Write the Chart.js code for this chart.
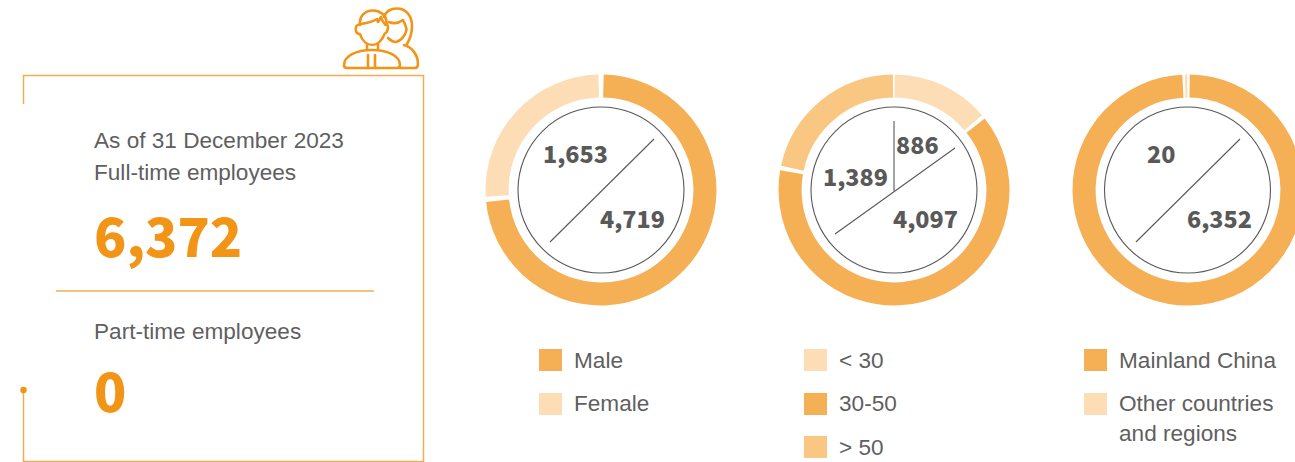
<!DOCTYPE html>
<html><head><meta charset="utf-8">
<script src="https://cdn.jsdelivr.net/npm/chart.js@4"></script>
<style>
html,body{margin:0;padding:0;background:#fff;width:1295px;height:462px;overflow:hidden}
#stage{position:relative;width:1295px;height:462px;overflow:hidden}
.t{position:absolute;white-space:nowrap;line-height:1}
.body{font:22.6px "Liberation Sans",Arial,sans-serif;color:#5f5f5f}
.big{font:900 53.2px "Noto Sans CJK SC","Noto Sans",sans-serif;color:#F29416}
.num{font:900 23.3px "Noto Sans CJK SC","Noto Sans",sans-serif;color:#595959}
.sw{position:absolute;width:23px;height:22px}
canvas{position:absolute}
svg{position:absolute;left:0;top:0}
</style></head><body><div id="stage">
<svg width="1295" height="462" id="ov" fill="none">
 <g stroke="#F3AC4E" stroke-width="1.5">
  <path d="M23.5 104V75.5H423.5V461.5H23.5V390"/>
  <path d="M56 291H374"/>
 </g>
 <circle cx="23.5" cy="390" r="3.2" fill="#F29416"/>
 <g stroke="#F29416" stroke-width="2.6" stroke-linejoin="round" stroke-linecap="round">
  <path d="M360 34C356 34 355 30 356 27C357 25 359 24 360 25C359 16 365 10.5 373 10.5C380 10.5 386 15 386.5 22L388 27C388 31 386 33 384.5 34C382 41 377 45 372.5 45C367 45 362 41 360 34Z"/>
  <path d="M361 24C367 23 374 21 377 19L378 22L381 17L382 20L385.5 25"/>
  <path d="M344 65C344 56 356 50 372 50C388 50 400 56 400 65C400 67 399 68 397 68H347C345 68 344 67 344 65Z"/>
  <path d="M367 45V50M378 44V50"/>
  <path d="M368 55V68M375 55V68"/>
  <path d="M384 17C386 11 391 8.5 397 8.5C406 8.5 412 16 412 26C412 33 410 39 407 44"/>
  <path d="M389 22C394 24 399 23 403 20C405 24 406.5 27 406.5 30C405 37 400 41 396 42C393 42 390 40 388 38"/>
  <path d="M404 45C412 47 418 55 418 64C418 67 417 68 415 68H400"/>
 </g>
</svg>
<div id="texts"></div>
</div>
<script>
const maleFemaleLabels = ["Male", "Female"];
const maleFemaleValues = [4719, 1653];
const ageLabels = ["< 30", "30-50", "> 50"];
const ageValues = [886, 4097, 1389];
const regionLabels = ["Mainland China", "Other countries\nand regions"];
const regionValues = [6352, 20];
const fullTimeTotal = "6,372";
const partTimeTotal = "0";
const asOfText = "As of 31 December 2023";
const fullTimeText = "Full-time employees";
const partTimeText = "Part-time employees";
const maleFemaleColors = ["#F5B056", "#FCDDB5"];
const ageColors = ["#FCDDB5", "#F5B056", "#FAC782"];
const regionColors = ["#F5B056", "#FCDDB5"];

const stage = document.getElementById('stage');
const texts = document.getElementById('texts');
function addText(str, cls, x, y){
  const d = document.createElement('div');
  d.className = 't ' + cls; d.textContent = str;
  d.style.left = x + 'px'; d.style.top = y + 'px';
  texts.appendChild(d); return d;
}
addText(asOfText,'body',94,128);
addText(fullTimeText,'body',94,160);
addText(fullTimeTotal,'big',94,195);
addText(partTimeText,'body',94,319);
addText(partTimeTotal,'big',94,350);

const fmt = n => n.toLocaleString('en-US');
const SIZE = 240, R = 115.5, HOLE = 96;
function donut(cx, cy, labels, values, colors, gap, rot){
  const c = document.createElement('canvas');
  c.width = SIZE; c.height = SIZE;
  c.style.cssText = `left:${cx-SIZE/2}px;top:${cy-SIZE/2}px;width:${SIZE}px;height:${SIZE}px`;
  stage.appendChild(c);
  new Chart(c, {type:'doughnut',
    data:{labels, datasets:[{data:values, backgroundColor:colors, borderWidth:0, spacing:gap}]},
    options:{responsive:false, animation:false, rotation:rot, radius:R-gap/2, cutout:HOLE-gap/2, layout:{padding:0},
      plugins:{legend:{display:false}, tooltip:{enabled:false}}}});
}
donut(601,190,maleFemaleLabels,maleFemaleValues,maleFemaleColors,3,-0.6);
donut(894,190,ageLabels,ageValues,ageColors,3,0);
donut(1187.5,190,regionLabels,regionValues,regionColors,1.5,-0.4);

const ov = document.getElementById('ov');
function svgEl(tag, attrs){ const e = document.createElementNS('http://www.w3.org/2000/svg',tag);
  for(const k in attrs) e.setAttribute(k,attrs[k]); ov.appendChild(e); return e; }
const G = {stroke:'#595959','stroke-width':1.1,fill:'none'};
[601,894,1187.5].forEach(cx => svgEl('circle',{cx,cy:190,r:83,...G}));
svgEl('line',{x1:550,y1:242,x2:654,y2:139,...G});
svgEl('line',{x1:835,y1:234,x2:955,y2:148,...G});
svgEl('line',{x1:894,y1:121,x2:894,y2:191,...G});
svgEl('line',{x1:1136,y1:242,x2:1240,y2:139,...G});

addText(fmt(maleFemaleValues[1]),'num',543,136);
addText(fmt(maleFemaleValues[0]),'num',600,201);
addText(fmt(ageValues[0]),'num',896,127);
addText(fmt(ageValues[2]),'num',823,159);
addText(fmt(ageValues[1]),'num',893,201);
addText(fmt(regionValues[1]),'num',1147,136);
addText(fmt(regionValues[0]),'num',1187,201);

function legend(x, ys, labels, colors){
  labels.forEach((l,i)=>{
    const s = document.createElement('div'); s.className='sw';
    s.style.left = x+'px'; s.style.top = ys[i]+'px'; s.style.background = colors[i];
    texts.appendChild(s);
    l.split('\n').forEach((line,j)=> addText(line,'body',x+35,ys[i]-(i===1?2:1)+j*30));
  });
}
legend(539,[349,393],maleFemaleLabels,maleFemaleColors);
legend(804,[349,393,436],ageLabels,ageColors);
legend(1084,[349,393],regionLabels,regionColors);
</script></body></html>
